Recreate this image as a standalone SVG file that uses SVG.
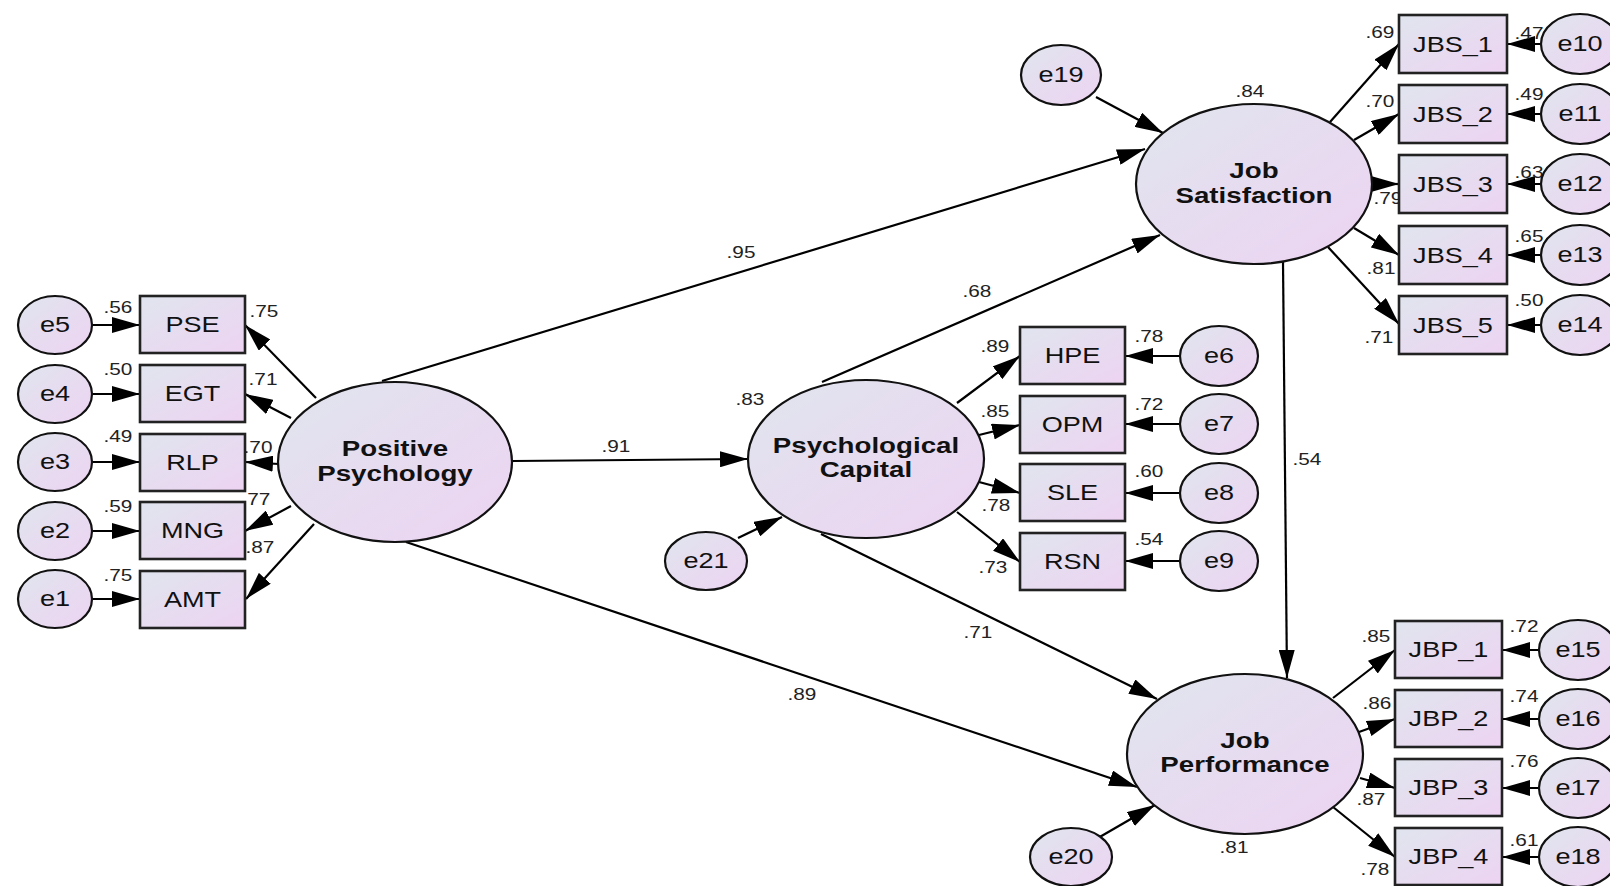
<svg xmlns="http://www.w3.org/2000/svg" width="1610" height="886" viewBox="0 0 1610 886">
  <style>
    text { font-family: "Liberation Sans", Arial, sans-serif; fill: #111; text-anchor: middle;
           transform-box: fill-box; transform-origin: center; transform: scaleX(1.26); }
    .lat { font-size: 22px; font-weight: bold; }
    .obs { font-size: 21.5px; }
    .err { font-size: 21.5px; }
    .num { font-size: 16.5px; fill: #222; }
    .node { fill: url(#fillGrad); stroke: #111; stroke-width: 2.2; }
    .box { fill: url(#fillGrad); stroke: #222; stroke-width: 2.6; }
    #connectors line { stroke: #000; stroke-width: 2.2; marker-end: url(#arrow); }
  </style>
  <defs>
    <linearGradient id="fillGrad" x1="0" y1="0" x2="1" y2="1">
      <stop offset="0" stop-color="#e0e5ee"/>
      <stop offset="1" stop-color="#edd3f2"/>
    </linearGradient>
    <marker id="arrow" markerUnits="userSpaceOnUse" markerWidth="28" markerHeight="16" refX="28" refY="8" orient="auto">
      <path d="M0,0 L28,8 L0,16 Z" fill="#000"/>
    </marker>
  </defs>
  <rect width="1610" height="886" fill="#fff"/>

  <!-- paths and loadings -->
  <g id="connectors">
    <line x1="92" y1="325" x2="140" y2="325"/>
    <line x1="92" y1="394" x2="140" y2="394"/>
    <line x1="92" y1="462" x2="140" y2="462"/>
    <line x1="92" y1="531" x2="140" y2="531"/>
    <line x1="92" y1="599" x2="140" y2="599"/>
    <line x1="316" y1="398" x2="245" y2="325"/>
    <line x1="291" y1="418" x2="245" y2="394"/>
    <line x1="279" y1="464" x2="245" y2="462"/>
    <line x1="291" y1="506" x2="245" y2="531"/>
    <line x1="314" y1="524" x2="246" y2="599"/>
    <line x1="513" y1="461" x2="748" y2="459"/>
    <line x1="382" y1="381" x2="1145" y2="149"/>
    <line x1="406" y1="542" x2="1137" y2="787"/>
    <line x1="822" y1="382" x2="1160" y2="235"/>
    <line x1="821" y1="534" x2="1157" y2="699"/>
    <line x1="738" y1="538" x2="782" y2="517"/>
    <line x1="957" y1="403" x2="1020" y2="356"/>
    <line x1="979" y1="435" x2="1020" y2="425"/>
    <line x1="979" y1="482" x2="1020" y2="493"/>
    <line x1="957" y1="512" x2="1020" y2="562"/>
    <line x1="1180" y1="356" x2="1125" y2="356"/>
    <line x1="1180" y1="424" x2="1125" y2="424"/>
    <line x1="1180" y1="493" x2="1125" y2="493"/>
    <line x1="1180" y1="561" x2="1125" y2="561"/>
    <line x1="1096" y1="97" x2="1163" y2="133"/>
    <line x1="1330" y1="122" x2="1399" y2="44"/>
    <line x1="1354" y1="140" x2="1399" y2="114"/>
    <line x1="1369" y1="184" x2="1399" y2="184"/>
    <line x1="1354" y1="228" x2="1399" y2="255"/>
    <line x1="1328" y1="247" x2="1399" y2="324"/>
    <line x1="1542" y1="44" x2="1507" y2="44"/>
    <line x1="1542" y1="114" x2="1507" y2="114"/>
    <line x1="1542" y1="184" x2="1507" y2="184"/>
    <line x1="1542" y1="255" x2="1507" y2="255"/>
    <line x1="1542" y1="325" x2="1507" y2="325"/>
    <line x1="1283" y1="262" x2="1287" y2="678"/>
    <line x1="1098" y1="838" x2="1155" y2="805"/>
    <line x1="1333" y1="698" x2="1395" y2="650"/>
    <line x1="1359" y1="732" x2="1395" y2="719"/>
    <line x1="1360" y1="778" x2="1395" y2="788"/>
    <line x1="1333" y1="807" x2="1395" y2="857"/>
    <line x1="1540" y1="650" x2="1502" y2="650"/>
    <line x1="1540" y1="719" x2="1502" y2="719"/>
    <line x1="1540" y1="788" x2="1502" y2="788"/>
    <line x1="1540" y1="857" x2="1502" y2="857"/>
  </g>

  <!-- standardized estimates -->
  <g id="estimates" class="num">
    <text class="num" x="118" y="313">.56</text>
    <text class="num" x="118" y="375">.50</text>
    <text class="num" x="118" y="442">.49</text>
    <text class="num" x="118" y="512">.59</text>
    <text class="num" x="118" y="581">.75</text>
    <text class="num" x="264" y="317">.75</text>
    <text class="num" x="263" y="385">.71</text>
    <text class="num" x="258" y="453">.70</text>
    <text class="num" x="256" y="505">.77</text>
    <text class="num" x="260" y="553">.87</text>
    <text class="num" x="616" y="452">.91</text>
    <text class="num" x="741" y="258">.95</text>
    <text class="num" x="750" y="405">.83</text>
    <text class="num" x="977" y="297">.68</text>
    <text class="num" x="995" y="352">.89</text>
    <text class="num" x="995" y="417">.85</text>
    <text class="num" x="996" y="511">.78</text>
    <text class="num" x="993" y="573">.73</text>
    <text class="num" x="1149" y="342">.78</text>
    <text class="num" x="1149" y="410">.72</text>
    <text class="num" x="1149" y="477">.60</text>
    <text class="num" x="1149" y="545">.54</text>
    <text class="num" x="1307" y="465">.54</text>
    <text class="num" x="978" y="638">.71</text>
    <text class="num" x="802" y="700">.89</text>
    <text class="num" x="1250" y="97">.84</text>
    <text class="num" x="1380" y="38">.69</text>
    <text class="num" x="1380" y="107">.70</text>
    <text class="num" x="1388" y="204">.79</text>
    <text class="num" x="1381" y="274">.81</text>
    <text class="num" x="1379" y="343">.71</text>
    <text class="num" x="1529" y="39">.47</text>
    <text class="num" x="1529" y="100">.49</text>
    <text class="num" x="1529" y="178">.63</text>
    <text class="num" x="1529" y="242">.65</text>
    <text class="num" x="1529" y="306">.50</text>
    <text class="num" x="1376" y="642">.85</text>
    <text class="num" x="1377" y="709">.86</text>
    <text class="num" x="1371" y="805">.87</text>
    <text class="num" x="1375" y="875">.78</text>
    <text class="num" x="1524" y="632">.72</text>
    <text class="num" x="1524" y="702">.74</text>
    <text class="num" x="1524" y="767">.76</text>
    <text class="num" x="1524" y="846">.61</text>
    <text class="num" x="1234" y="853">.81</text>
  </g>

  <!-- latent variables -->
  <g id="positive-psychology">
    <ellipse class="node" cx="395" cy="462" rx="117" ry="80"/>
    <text class="lat" x="395" y="456">Positive</text>
    <text class="lat" x="395" y="481">Psychology</text>
  </g>
  <g id="psychological-capital">
    <ellipse class="node" cx="866" cy="459" rx="118" ry="79"/>
    <text class="lat" x="866" y="453">Psychological</text>
    <text class="lat" x="866" y="477">Capital</text>
  </g>
  <g id="job-satisfaction">
    <ellipse class="node" cx="1254" cy="184" rx="118" ry="80"/>
    <text class="lat" x="1254" y="178">Job</text>
    <text class="lat" x="1254" y="203">Satisfaction</text>
  </g>
  <g id="job-performance">
    <ellipse class="node" cx="1245" cy="754" rx="118" ry="80"/>
    <text class="lat" x="1245" y="748">Job</text>
    <text class="lat" x="1245" y="772">Performance</text>
  </g>

  <!-- indicators of Positive Psychology -->
  <g id="PSE"><rect class="box" x="140" y="296" width="105" height="57"/><text class="obs" x="192.5" y="332">PSE</text></g>
  <g id="EGT"><rect class="box" x="140" y="365" width="105" height="57"/><text class="obs" x="192.5" y="401">EGT</text></g>
  <g id="RLP"><rect class="box" x="140" y="434" width="105" height="57"/><text class="obs" x="192.5" y="470">RLP</text></g>
  <g id="MNG"><rect class="box" x="140" y="502" width="105" height="57"/><text class="obs" x="192.5" y="538">MNG</text></g>
  <g id="AMT"><rect class="box" x="140" y="571" width="105" height="57"/><text class="obs" x="192.5" y="607">AMT</text></g>

  <!-- indicators of Psychological Capital -->
  <g id="HPE"><rect class="box" x="1020" y="327" width="105" height="57"/><text class="obs" x="1072.5" y="363">HPE</text></g>
  <g id="OPM"><rect class="box" x="1020" y="396" width="105" height="57"/><text class="obs" x="1072.5" y="432">OPM</text></g>
  <g id="SLE"><rect class="box" x="1020" y="464" width="105" height="57"/><text class="obs" x="1072.5" y="500">SLE</text></g>
  <g id="RSN"><rect class="box" x="1020" y="533" width="105" height="57"/><text class="obs" x="1072.5" y="569">RSN</text></g>

  <!-- indicators of Job Satisfaction -->
  <g id="JBS_1"><rect class="box" x="1399" y="15" width="108" height="58"/><text class="obs" x="1453" y="52">JBS_1</text></g>
  <g id="JBS_2"><rect class="box" x="1399" y="85" width="108" height="58"/><text class="obs" x="1453" y="122">JBS_2</text></g>
  <g id="JBS_3"><rect class="box" x="1399" y="155" width="108" height="58"/><text class="obs" x="1453" y="192">JBS_3</text></g>
  <g id="JBS_4"><rect class="box" x="1399" y="226" width="108" height="58"/><text class="obs" x="1453" y="263">JBS_4</text></g>
  <g id="JBS_5"><rect class="box" x="1399" y="296" width="108" height="58"/><text class="obs" x="1453" y="333">JBS_5</text></g>

  <!-- indicators of Job Performance -->
  <g id="JBP_1"><rect class="box" x="1395" y="621" width="107" height="57"/><text class="obs" x="1448.5" y="657">JBP_1</text></g>
  <g id="JBP_2"><rect class="box" x="1395" y="690" width="107" height="57"/><text class="obs" x="1448.5" y="726">JBP_2</text></g>
  <g id="JBP_3"><rect class="box" x="1395" y="759" width="107" height="57"/><text class="obs" x="1448.5" y="795">JBP_3</text></g>
  <g id="JBP_4"><rect class="box" x="1395" y="828" width="107" height="57"/><text class="obs" x="1448.5" y="864">JBP_4</text></g>

  <!-- error terms -->
  <g id="e5"><ellipse class="node" cx="55" cy="325" rx="37" ry="29"/><text class="err" x="55" y="332">e5</text></g>
  <g id="e4"><ellipse class="node" cx="55" cy="394" rx="37" ry="29"/><text class="err" x="55" y="401">e4</text></g>
  <g id="e3"><ellipse class="node" cx="55" cy="462" rx="37" ry="29"/><text class="err" x="55" y="469">e3</text></g>
  <g id="e2"><ellipse class="node" cx="55" cy="531" rx="37" ry="29"/><text class="err" x="55" y="538">e2</text></g>
  <g id="e1"><ellipse class="node" cx="55" cy="599" rx="37" ry="29"/><text class="err" x="55" y="606">e1</text></g>

  <g id="e6"><ellipse class="node" cx="1219" cy="356" rx="39" ry="30"/><text class="err" x="1219" y="363">e6</text></g>
  <g id="e7"><ellipse class="node" cx="1219" cy="424" rx="39" ry="30"/><text class="err" x="1219" y="431">e7</text></g>
  <g id="e8"><ellipse class="node" cx="1219" cy="493" rx="39" ry="30"/><text class="err" x="1219" y="500">e8</text></g>
  <g id="e9"><ellipse class="node" cx="1219" cy="561" rx="39" ry="30"/><text class="err" x="1219" y="568">e9</text></g>

  <g id="e10"><ellipse class="node" cx="1580" cy="44" rx="39" ry="30"/><text class="err" x="1580" y="51">e10</text></g>
  <g id="e11"><ellipse class="node" cx="1580" cy="114" rx="39" ry="30"/><text class="err" x="1580" y="121">e11</text></g>
  <g id="e12"><ellipse class="node" cx="1580" cy="184" rx="39" ry="30"/><text class="err" x="1580" y="191">e12</text></g>
  <g id="e13"><ellipse class="node" cx="1580" cy="255" rx="39" ry="30"/><text class="err" x="1580" y="262">e13</text></g>
  <g id="e14"><ellipse class="node" cx="1580" cy="325" rx="39" ry="30"/><text class="err" x="1580" y="332">e14</text></g>

  <g id="e15"><ellipse class="node" cx="1578" cy="650" rx="39" ry="30"/><text class="err" x="1578" y="657">e15</text></g>
  <g id="e16"><ellipse class="node" cx="1578" cy="719" rx="39" ry="30"/><text class="err" x="1578" y="726">e16</text></g>
  <g id="e17"><ellipse class="node" cx="1578" cy="788" rx="39" ry="30"/><text class="err" x="1578" y="795">e17</text></g>
  <g id="e18"><ellipse class="node" cx="1578" cy="857" rx="39" ry="30"/><text class="err" x="1578" y="864">e18</text></g>

  <g id="e19"><ellipse class="node" cx="1061" cy="75" rx="40" ry="30"/><text class="err" x="1061" y="82">e19</text></g>
  <g id="e20"><ellipse class="node" cx="1071" cy="857" rx="41" ry="29"/><text class="err" x="1071" y="864">e20</text></g>
  <g id="e21"><ellipse class="node" cx="706" cy="561" rx="41" ry="29"/><text class="err" x="706" y="568">e21</text></g>
</svg>
